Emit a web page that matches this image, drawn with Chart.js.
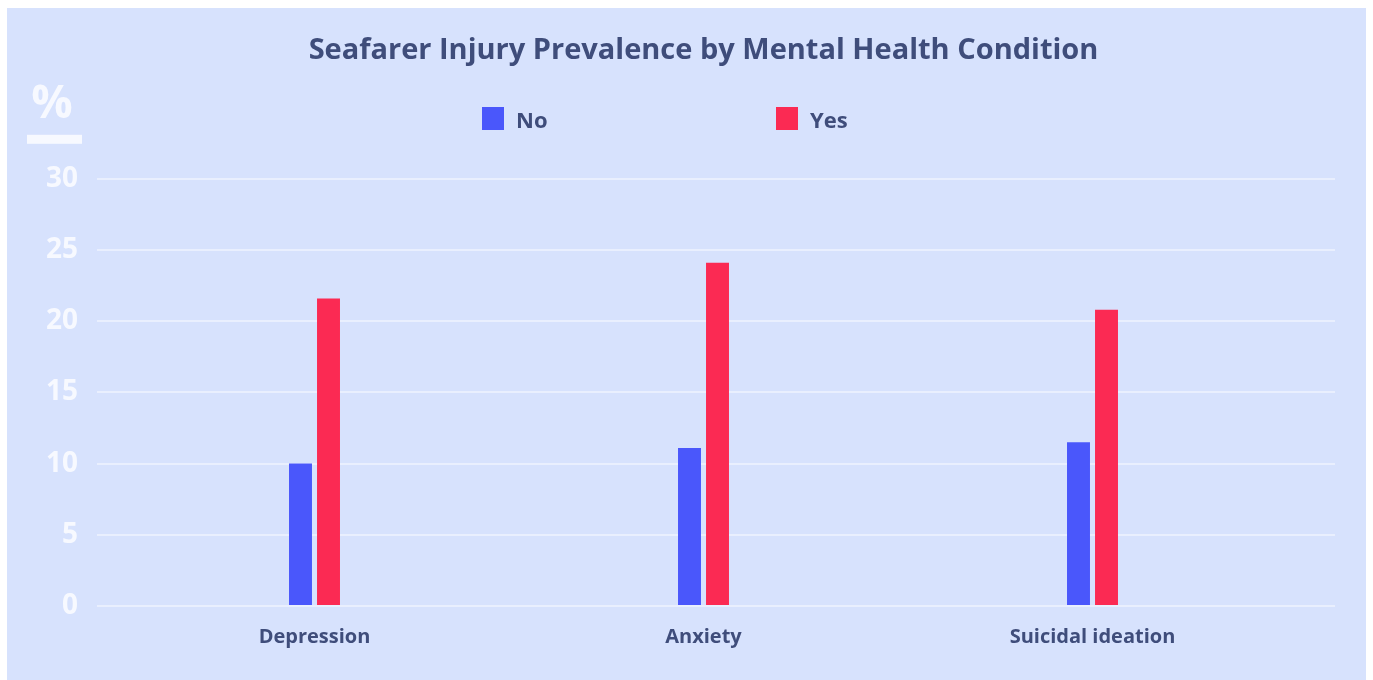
<!doctype html>
<html lang="en">

<head>
  <meta charset="utf-8">
  <title>seafarer injury prevalence</title>
  <meta name="viewport" content="width=device-width, initial-scale=1">

  <style>
    body {
      margin: 0;
      background: #fff;
    }
    #panel {
      position: absolute;
      left: 7px;
      top: 8px;
      width: 1359px;
      height: 672px;
      background: #d7e2fd;
    }
    #legend {
      position: absolute;
      left: 475px;
      top: 99px;
      display: flex;
      margin: 0;
      padding: 0;
      list-style: none;
      font: bold 22px "Open Sans", sans-serif;
      color: #3f4d7b;
    }
    #legend li {
      display: flex;
      align-items: center;
      height: 23px;
    }
    #legend li:first-child {
      width: 294px;
    }
    #legend span {
      display: inline-block;
      width: 22px;
      height: 23px;
      margin-right: 12px;
    }
  </style>
</head>

<body>
  <div id="panel">
    <canvas id="chart"></canvas>
    <ul id="legend"></ul>
  </div>

  <script src="https://cdn.jsdelivr.net/npm/chart.js@4/dist/chart.umd.min.js"></script>
  <script>
  const categories = ['Depression', 'Anxiety', 'Suicidal ideation'];
  const noValues = [10.0, 11.1, 11.5];
  const yesValues = [21.6, 24.1, 20.8];
  const yTicks = [0, 5, 10, 15, 20, 25, 30];

  const textColor = '#3f4d7b';
  const gridColor = '#e9effe';

  // "%" unit mark with a bar under it, top left of the plot
  const unitMark = {
    id: 'unitMark',
    afterDraw(chart) {
      let ctx = chart.ctx;
      let top = chart.chartArea.top;
      let left = chart.chartArea.left;
      ctx.save();
      ctx.fillStyle = '#f7f9ff';
      ctx.font = 'bold 46px "Open Sans", sans-serif';
      ctx.textAlign = 'center';
      ctx.textBaseline = 'middle';
      ctx.fillText('%', left - 68, top - 74);
      ctx.fillRect(left - 93, top - 44, 55, 9);
      ctx.restore();
    }
  };

  function makeLegend(chart) {
    let ul = document.getElementById('legend');
    chart.options.plugins.legend.labels.generateLabels(chart).forEach(item => {
      let li = document.createElement('li');
      let box = document.createElement('span');
      box.style.background = item.fillStyle;
      li.appendChild(box);
      li.appendChild(document.createTextNode(item.text));
      ul.appendChild(li);
    });
  }

  let ctx = document.getElementById('chart').getContext('2d');

  let chart = new Chart(ctx, {
    type: 'bar',
    data: {
      labels: categories,
      datasets: [
        {
          label: 'No',
          data: noValues,
          backgroundColor: '#4a57fb',
          barPercentage: 0.82,
          categoryPercentage: 0.144,
        },
        {
          label: 'Yes',
          data: yesValues,
          backgroundColor: '#fb2a53',
          barPercentage: 0.82,
          categoryPercentage: 0.144,
        },
      ],
    },
    options: {
      responsive: true,
      maintainAspectRatio: false,
      animation: false,
      layout: {
        padding: {left: 40, right: 31, top: 0, bottom: 20},
      },
      plugins: {
        title: {
          display: true,
          fullSize: false,
          text: 'Seafarer Injury Prevalence by Mental Health Condition',
          color: textColor,
          font: {family: 'Open Sans', size: 29, weight: 'bold'},
          padding: {top: 25, bottom: 111},
        },
        legend: {
          display: false,
        },
        tooltip: {
          enabled: false,
        },
      },
      scales: {
        x: {
          grid: {display: false},
          border: {display: false},
          ticks: {
            color: textColor,
            padding: 11,
            font: {family: 'Open Sans', size: 20, weight: 'bold'},
          },
        },
        y: {
          min: 0,
          max: 30,
          afterBuildTicks: s => { s.ticks = yTicks.map(v => ({value: v})); },
          afterFit: s => { s.width = 73; },
          border: {display: false},
          grid: {color: gridColor, lineWidth: 2, tickLength: 23},
          ticks: {
            color: '#f7f9ff',
            padding: 19,
            font: {family: 'Open Sans', size: 28, weight: 'bold'},
          },
        },
        yRight: {
          position: 'right',
          min: 0,
          max: 30,
          afterBuildTicks: s => { s.ticks = yTicks.map(v => ({value: v})); },
          border: {display: false},
          grid: {color: gridColor, lineWidth: 2, tickLength: 48, drawOnChartArea: false},
          ticks: {display: false},
        },
      },
    },
    plugins: [unitMark],
  });

  makeLegend(chart);
  </script>

</body>
</html>
